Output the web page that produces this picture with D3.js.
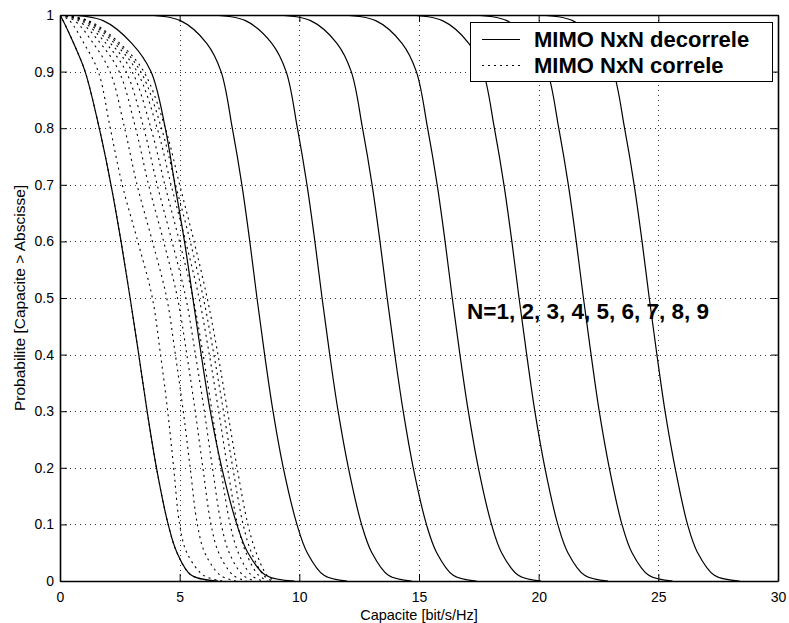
<!DOCTYPE html>
<html><head><meta charset="utf-8">
<script src="https://cdn.jsdelivr.net/npm/d3@7"></script>
<style>
html,body{margin:0;padding:0;background:#fff;}
svg text{font-family:"Liberation Sans",Arial,Helvetica,sans-serif;fill:#000;}
</style></head>
<body>
<svg id="chart" width="789" height="623"></svg>
<script>
// ---- data (capacity in bit/s/Hz reached at each probability level) ----
const probLevels = [1, 0.99, 0.95, 0.9, 0.8, 0.7, 0.6, 0.5, 0.4, 0.3, 0.2, 0.1, 0.05, 0.01, 0];

// MIMO NxN decorrele (solid), N = 1..9
const capDecorrN1 = [0, 0.13, 0.57, 1.05, 1.64, 2.13, 2.55, 2.93, 3.29, 3.64, 4.03, 4.52, 4.89, 5.49, 6.6];
const capDecorrN2 = [0.3, 1.8, 3.0, 3.8, 4.4, 4.8, 5.2, 5.55, 5.9, 6.28, 6.76, 7.39, 7.85, 8.6, 9.8];
const capDecorrN3 = [3.53, 5.03, 6.13, 6.73, 7.20, 7.60, 7.93, 8.23, 8.55, 8.90, 9.33, 9.90, 10.33, 11.03, 12.0];
const capDecorrN4 = [6.25, 7.75, 8.85, 9.45, 9.92, 10.32, 10.65, 10.95, 11.27, 11.62, 12.05, 12.60, 13.03, 13.72, 14.7];
const capDecorrN5 = [8.97, 10.47, 11.57, 12.17, 12.64, 13.04, 13.37, 13.67, 13.99, 14.34, 14.76, 15.31, 15.74, 16.43, 17.4];
const capDecorrN6 = [11.69, 13.19, 14.29, 14.89, 15.36, 15.76, 16.09, 16.39, 16.71, 17.06, 17.48, 18.03, 18.45, 19.15, 20.1];
const capDecorrN7 = [14.48, 15.98, 17.08, 17.68, 18.15, 18.55, 18.88, 19.18, 19.50, 19.84, 20.26, 20.80, 21.22, 21.92, 22.9];
const capDecorrN8 = [17.17, 18.67, 19.77, 20.37, 20.84, 21.24, 21.57, 21.87, 22.19, 22.53, 22.95, 23.48, 23.90, 24.60, 25.6];
const capDecorrN9 = [19.92, 21.42, 22.52, 23.12, 23.59, 23.99, 24.32, 24.62, 24.94, 25.28, 25.70, 26.22, 26.64, 27.34, 28.4];

// MIMO NxN correle (dotted), N = 1..9
const capCorrN1 = [0, 0.13, 0.57, 1.05, 1.64, 2.13, 2.55, 2.93, 3.29, 3.64, 4.03, 4.52, 4.89, 5.49, 6.6];
const capCorrN2 = [0, 0.40, 1.00, 1.60, 2.10, 2.60, 3.25, 3.86, 4.20, 4.50, 4.75, 5.00, 5.30, 6.00, 6.80];
const capCorrN3 = [0, 0.61, 1.39, 2.09, 2.70, 3.22, 3.86, 4.46, 4.82, 5.15, 5.44, 5.74, 6.05, 6.70, 7.35];
const capCorrN4 = [0, 0.77, 1.69, 2.47, 3.16, 3.70, 4.33, 4.91, 5.30, 5.65, 5.97, 6.31, 6.63, 7.24, 7.80];
const capCorrN5 = [0, 0.89, 1.92, 2.76, 3.50, 4.06, 4.68, 5.26, 5.66, 6.03, 6.37, 6.74, 7.07, 7.65, 8.15];
const capCorrN6 = [0, 0.99, 2.11, 3.01, 3.80, 4.38, 4.99, 5.56, 5.98, 6.35, 6.71, 7.11, 7.45, 8.00, 8.45];
const capCorrN7 = [0, 1.08, 2.28, 3.22, 4.06, 4.64, 5.25, 5.81, 6.24, 6.63, 7.00, 7.42, 7.77, 8.30, 8.70];
const capCorrN8 = [0, 1.14, 2.40, 3.37, 4.24, 4.83, 5.44, 5.99, 6.43, 6.83, 7.22, 7.65, 8.00, 8.51, 8.85];
const capCorrN9 = [0, 1.20, 2.50, 3.50, 4.40, 5.00, 5.60, 6.15, 6.60, 7.00, 7.40, 7.85, 8.20, 8.65, 9.00];

const decorrSeries = [capDecorrN1, capDecorrN2, capDecorrN3, capDecorrN4, capDecorrN5, capDecorrN6, capDecorrN7, capDecorrN8, capDecorrN9];
const corrSeries = [capCorrN1, capCorrN2, capCorrN3, capCorrN4, capCorrN5, capCorrN6, capCorrN7, capCorrN8, capCorrN9];

const xTicks = [0, 5, 10, 15, 20, 25, 30];
const xTickLabels = ["0", "5", "10", "15", "20", "25", "30"];
const yTicks = [0, 0.1, 0.2, 0.3, 0.4, 0.5, 0.6, 0.7, 0.8, 0.9, 1];
const yTickLabels = ["0", "0.1", "0.2", "0.3", "0.4", "0.5", "0.6", "0.7", "0.8", "0.9", "1"];
const legendLabels = ["MIMO NxN decorrele", "MIMO NxN correle"];
const xLabel = "Capacite [bit/s/Hz]";
const yLabel = "Probabilite [Capacite > Abscisse]";
const annotation = "N=1, 2, 3, 4, 5, 6, 7, 8, 9";

// ---- layout ----
const L = 60, R = 778, T = 15, B = 581;
const svg = d3.select("#chart");
const x = d3.scaleLinear().domain([0, 30]).range([L, R]);
const y = d3.scaleLinear().domain([0, 1]).range([B, T]);

svg.append("defs").append("clipPath").attr("id", "plotclip")
  .append("rect").attr("x", L).attr("y", T).attr("width", R - L).attr("height", B - T);

// grid
const grid = svg.append("g").attr("stroke", "#333").attr("stroke-width", 1)
  .attr("stroke-dasharray", "1,4").attr("shape-rendering", "crispEdges");
xTicks.slice(1, -1).forEach(t => grid.append("line")
  .attr("x1", Math.round(x(t)) + 0.5).attr("x2", Math.round(x(t)) + 0.5).attr("y1", T).attr("y2", B));
yTicks.slice(1, -1).forEach(t => grid.append("line")
  .attr("y1", Math.round(y(t)) + 0.5).attr("y2", Math.round(y(t)) + 0.5).attr("x1", L).attr("x2", R));

// curves
const line = d3.line().x(d => x(d[0])).y(d => y(d[1])).curve(d3.curveCatmullRom.alpha(0.5));
const curves = svg.append("g").attr("fill", "none").attr("clip-path", "url(#plotclip)");
corrSeries.forEach(s => curves.append("path")
  .attr("d", line(s.map((c, i) => [c, probLevels[i]])))
  .attr("stroke", "#000").attr("stroke-width", 1.1).attr("stroke-dasharray", "2,4"));
decorrSeries.forEach(s => curves.append("path")
  .attr("d", line(s.map((c, i) => [c, probLevels[i]])))
  .attr("stroke", "#000").attr("stroke-width", 1.2));

// axes (box with inward ticks on all sides)
const tickLen = 7;
const axB = d3.axisBottom(x).tickValues(xTicks).tickFormat((d, i) => xTickLabels[i]).tickSizeInner(-tickLen).tickSizeOuter(0).tickPadding(11);
const axT = d3.axisTop(x).tickValues(xTicks).tickFormat("").tickSizeInner(-tickLen).tickSizeOuter(0);
const axL = d3.axisLeft(y).tickValues(yTicks).tickFormat((d, i) => yTickLabels[i]).tickSizeInner(-tickLen).tickSizeOuter(0).tickPadding(6);
const axR = d3.axisRight(y).tickValues(yTicks).tickFormat("").tickSizeInner(-tickLen).tickSizeOuter(0);
function style(g) {
  g.select(".domain").attr("stroke", "#000").attr("stroke-width", 1.6);
  g.selectAll(".tick line").attr("stroke", "#000").attr("stroke-width", 1);
  g.selectAll(".tick text").attr("font-size", 14).attr("font-family", "Liberation Sans, Arial, sans-serif").attr("fill", "#000");
}
svg.append("g").attr("transform", `translate(0,${B})`).call(axB).call(style);
svg.append("g").attr("transform", `translate(0,${T})`).call(axT).call(style);
svg.append("g").attr("transform", `translate(${L},0)`).call(axL).call(style);
svg.append("g").attr("transform", `translate(${R},0)`).call(axR).call(style);

// axis labels
svg.append("text").attr("x", (L + R) / 2).attr("y", 620).attr("text-anchor", "middle")
  .attr("font-size", 14.5).text(xLabel);
svg.append("text").attr("transform", `translate(25,${(T + B) / 2}) rotate(-90)`).attr("text-anchor", "middle")
  .attr("font-size", 15.5).text(yLabel);

// annotation
svg.append("text").attr("x", 467).attr("y", 319).attr("font-size", 22.5).attr("font-weight", "bold").text(annotation);

// legend
const lg = svg.append("g");
lg.append("rect").attr("x", 470.5).attr("y", 22.5).attr("width", 302).attr("height", 59)
  .attr("fill", "#fff").attr("stroke", "#000").attr("stroke-width", 1);
lg.append("line").attr("x1", 482).attr("x2", 520).attr("y1", 39.5).attr("y2", 39.5).attr("stroke", "#000").attr("stroke-width", 1.2);
lg.append("line").attr("x1", 482).attr("x2", 520).attr("y1", 65.5).attr("y2", 65.5).attr("stroke", "#000").attr("stroke-width", 1.1).attr("stroke-dasharray", "2,4");
lg.append("text").attr("x", 534).attr("y", 47).attr("font-size", 22).attr("font-weight", "bold").text(legendLabels[0]);
lg.append("text").attr("x", 534).attr("y", 72.5).attr("font-size", 22).attr("font-weight", "bold").text(legendLabels[1]);
</script>
</body></html>
